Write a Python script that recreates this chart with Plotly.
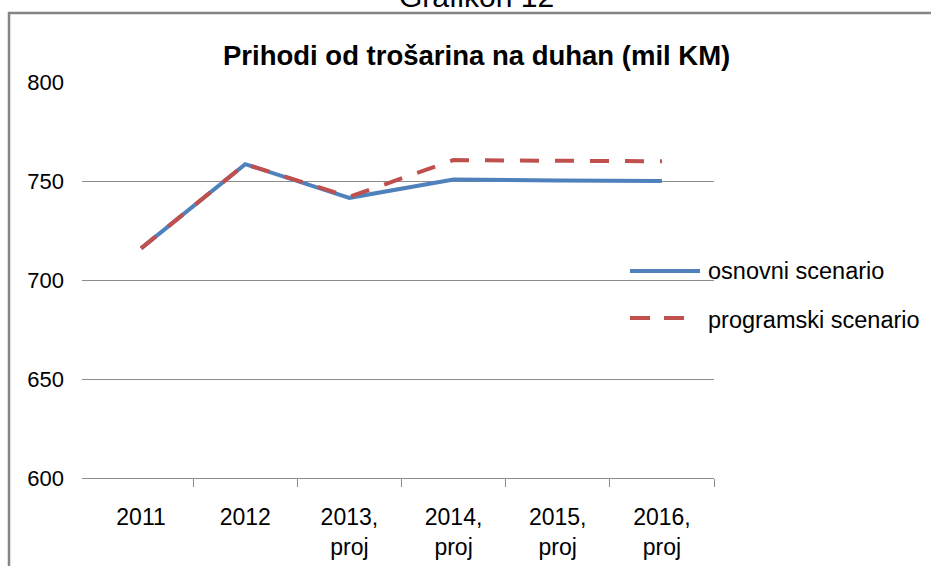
import plotly.graph_objects as go

categories = ["2011", "2012", "2013,<br>proj", "2014,<br>proj", "2015,<br>proj", "2016,<br>proj"]
osnovni = [716, 758.5, 741.5, 750.8, 750.2, 750.0]
programski = [716, 758.5, 742.0, 760.6, 760.2, 760.0]
series_names = ["osnovni scenario", "programski scenario"]
y_ticks = [600, 650, 700, 750, 800]

BLUE = "#4F81BD"
RED = "#C0504D"
GRID = "#8C8C8C"
FONT = "Liberation Sans, Arial, sans-serif"

xs = list(range(len(categories)))

fig = go.Figure()
fig.add_trace(go.Scatter(x=xs, y=osnovni, mode="lines", name=series_names[0],
                         line=dict(color=BLUE, width=4), showlegend=False))
fig.add_trace(go.Scatter(x=xs, y=programski, mode="lines", name=series_names[1],
                         line=dict(color=RED, width=4, dash="19px,16px"), showlegend=False))

W, H = 931, 566
L, R, T, B = 82, 217, 82, 88
pw, ph = W - L - R, H - T - B

def px_x(x):
    return (x - L) / pw

def px_y(y):
    return (H - B - y) / ph

shapes = [
    # outer frame (top and left)
    dict(type="line", xref="paper", yref="paper", x0=px_x(8), x1=px_x(940), y0=px_y(13), y1=px_y(13),
         line=dict(color="#858585", width=2.5)),
    dict(type="line", xref="paper", yref="paper", x0=px_x(9), x1=px_x(9), y0=px_y(12), y1=px_y(580),
         line=dict(color="#858585", width=2.5)),
    # legend symbols
    dict(type="line", xref="paper", yref="paper", x0=px_x(630), x1=px_x(700), y0=px_y(271), y1=px_y(271),
         line=dict(color=BLUE, width=4)),
    dict(type="line", xref="paper", yref="paper", x0=px_x(630), x1=px_x(685), y0=px_y(318), y1=px_y(318),
         line=dict(color=RED, width=4, dash="20px,14px")),
]

annotations = [
    dict(text="Grafikon 12", xref="paper", yref="paper", x=px_x(476), y=px_y(-3),
         xanchor="center", yanchor="middle", showarrow=False,
         font=dict(family=FONT, size=30, color="#000000")),
    dict(text="<b>Prihodi od trošarina na duhan (mil KM)</b>", xref="paper", yref="paper",
         x=px_x(476), y=px_y(56), xanchor="center", yanchor="middle", showarrow=False,
         font=dict(family=FONT, size=27.5, color="#000000")),
    dict(text=series_names[0], xref="paper", yref="paper", x=px_x(706), y=px_y(271),
         xanchor="left", yanchor="middle", showarrow=False,
         font=dict(family=FONT, size=23.5, color="#000000")),
    dict(text=series_names[1], xref="paper", yref="paper", x=px_x(706), y=px_y(320),
         xanchor="left", yanchor="middle", showarrow=False,
         font=dict(family=FONT, size=23.5, color="#000000")),
]

fig.update_layout(
    width=W, height=H,
    margin=dict(l=L, r=R, t=T, b=B, pad=0, autoexpand=False),
    paper_bgcolor="white", plot_bgcolor="white",
    showlegend=False,
    shapes=shapes, annotations=annotations,
    font=dict(family=FONT, size=22, color="#000000"),
)
fig.update_xaxes(
    range=[-0.567, 5.5], tickmode="array", tickvals=xs, ticktext=categories,
    ticks="", showgrid=False, zeroline=False, automargin=False,
    showline=True, linecolor=GRID, linewidth=1,
    ticklabelstandoff=18,
    minor=dict(tickmode="array", tickvals=[i + 0.5 for i in xs], ticks="outside",
               ticklen=8, tickcolor=GRID, tickwidth=1, showgrid=False),
    tickfont=dict(family=FONT, size=23, color="#000000"),
)
fig.update_yaxes(
    range=[600, 800], tickmode="array", tickvals=y_ticks, automargin=False,
    showgrid=True, gridcolor=GRID, gridwidth=1, zeroline=False,
    showline=False, ticks="", ticklabelstandoff=17,
    tickfont=dict(family=FONT, size=22, color="#000000"),
)

fig.write_html("out.html", config={"displayModeBar": False},
               post_script="document.body.style.margin='0';")
